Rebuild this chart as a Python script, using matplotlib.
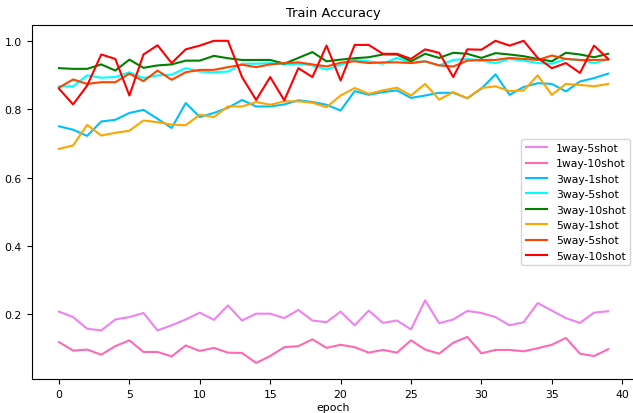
import matplotlib
matplotlib.use("Agg")
import matplotlib.pyplot as plt
import numpy as np

plt.rcParams["font.size"] = 7.8

epochs = list(range(40))

way1_shot5 = [0.208, 0.192, 0.158, 0.153, 0.185, 0.192, 0.204, 0.153, 0.168, 0.185,
              0.205, 0.184, 0.226, 0.182, 0.202, 0.202, 0.189, 0.213, 0.182, 0.177,
              0.208, 0.168, 0.211, 0.175, 0.182, 0.156, 0.241, 0.174, 0.185, 0.210,
              0.204, 0.192, 0.168, 0.177, 0.233, 0.211, 0.189, 0.175, 0.205, 0.209]
way1_shot10 = [0.119, 0.094, 0.097, 0.082, 0.107, 0.124, 0.090, 0.090, 0.077, 0.109,
               0.093, 0.102, 0.088, 0.087, 0.058, 0.078, 0.104, 0.107, 0.127, 0.102,
               0.111, 0.104, 0.088, 0.096, 0.088, 0.124, 0.097, 0.085, 0.117, 0.134,
               0.086, 0.096, 0.096, 0.092, 0.101, 0.111, 0.131, 0.085, 0.078, 0.098]
way3_shot1 = [0.750, 0.740, 0.722, 0.764, 0.769, 0.789, 0.798, 0.772, 0.745, 0.818,
              0.777, 0.789, 0.804, 0.827, 0.808, 0.808, 0.814, 0.826, 0.821, 0.813,
              0.796, 0.853, 0.842, 0.850, 0.855, 0.833, 0.840, 0.848, 0.848, 0.832,
              0.860, 0.902, 0.842, 0.865, 0.876, 0.874, 0.852, 0.881, 0.891, 0.904]
way3_shot5 = [0.867, 0.867, 0.899, 0.892, 0.894, 0.908, 0.891, 0.899, 0.901, 0.920,
              0.910, 0.908, 0.910, 0.933, 0.933, 0.935, 0.931, 0.933, 0.928, 0.916,
              0.930, 0.944, 0.940, 0.933, 0.950, 0.935, 0.940, 0.928, 0.944, 0.947,
              0.942, 0.935, 0.947, 0.942, 0.935, 0.933, 0.947, 0.944, 0.935, 0.945]
way3_shot10 = [0.920, 0.918, 0.918, 0.931, 0.913, 0.945, 0.921, 0.928, 0.931, 0.942,
               0.942, 0.956, 0.949, 0.944, 0.944, 0.944, 0.933, 0.950, 0.967, 0.940,
               0.945, 0.949, 0.952, 0.960, 0.960, 0.940, 0.962, 0.950, 0.965, 0.962,
               0.950, 0.964, 0.960, 0.955, 0.947, 0.940, 0.965, 0.960, 0.952, 0.962]
way5_shot1 = [0.684, 0.694, 0.754, 0.723, 0.731, 0.737, 0.767, 0.762, 0.755, 0.753,
              0.784, 0.777, 0.808, 0.808, 0.821, 0.813, 0.823, 0.823, 0.819, 0.806,
              0.840, 0.862, 0.845, 0.855, 0.863, 0.840, 0.874, 0.828, 0.850, 0.832,
              0.862, 0.867, 0.853, 0.855, 0.899, 0.842, 0.874, 0.871, 0.867, 0.874]
way5_shot5 = [0.863, 0.887, 0.874, 0.879, 0.879, 0.904, 0.882, 0.913, 0.886, 0.908,
              0.915, 0.915, 0.923, 0.930, 0.923, 0.931, 0.935, 0.937, 0.931, 0.925,
              0.936, 0.940, 0.935, 0.937, 0.937, 0.935, 0.940, 0.928, 0.925, 0.942,
              0.944, 0.944, 0.950, 0.947, 0.944, 0.957, 0.947, 0.944, 0.944, 0.945]
way5_shot10 = [0.860, 0.814, 0.869, 0.960, 0.947, 0.840, 0.960, 0.987, 0.935, 0.975,
               0.986, 1.000, 1.000, 0.894, 0.827, 0.894, 0.826, 0.920, 0.894, 0.986,
               0.884, 0.988, 0.988, 0.962, 0.962, 0.947, 0.975, 0.965, 0.894, 0.975,
               0.974, 1.000, 0.986, 1.000, 0.950, 0.920, 0.935, 0.906, 0.986, 0.947]

labels = ["1way-5shot", "1way-10shot", "3way-1shot", "3way-5shot",
          "3way-10shot", "5way-1shot", "5way-5shot", "5way-10shot"]
series = [way1_shot5, way1_shot10, way3_shot1, way3_shot5,
          way3_shot10, way5_shot1, way5_shot5, way5_shot10]
colors = ["violet", "hotpink", "deepskyblue", "cyan",
          "green", "orange", "orangered", "red"]

fig = plt.figure(figsize=(6.33, 4.14), dpi=100)
ax = fig.add_axes([0.0498, 0.0821, 0.9543, 0.8558])
for lab, ys, c in zip(labels, series, colors):
    ax.plot(epochs, ys, color=c, label=lab, linewidth=1.5)
ax.set_title("Train Accuracy")
ax.set_xlabel("epoch", labelpad=2)
ax.legend(loc="center right")
fig.savefig("out.png", dpi=100)
